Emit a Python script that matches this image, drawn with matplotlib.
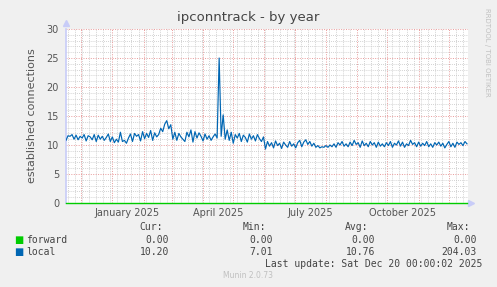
import numpy as np
import matplotlib
matplotlib.use('Agg')
import matplotlib.pyplot as plt
import matplotlib.dates as mdates
from matplotlib.transforms import blended_transform_factory

# daily averages, one value every 2 days from 2024-11-16
seg_nov_dec = [10.8, 11.6, 11.5, 11.8, 11.0, 11.7, 10.9, 11.5, 11.2, 11.8, 10.7, 11.6,
               11.4, 10.9, 11.8, 10.6, 11.7, 11.0, 11.5, 10.8, 11.3, 11.9, 10.6]
seg_jan_feb = [11.4, 10.4, 11.0, 10.5, 12.2, 10.6, 10.8, 10.3, 11.2, 11.9, 10.6, 12.0,
               11.5, 11.8, 10.7, 12.3, 11.1, 12.0, 11.3, 12.5, 10.8, 12.1, 11.4]
seg_feb_mar = [11.8, 12.9, 12.3, 13.6, 14.2, 12.8, 13.5, 11.0, 12.2, 10.8, 12.0, 11.4]
seg_mar_apr = [11.0, 10.6, 12.2, 11.4, 12.6, 10.5, 12.3, 11.2, 12.1, 11.5, 10.7, 11.9,
               11.0, 11.6, 10.8, 11.4, 11.9, 11.2]
seg_apr_may = [25.0, 11.5, 15.2, 11.0, 12.6, 10.8, 12.2, 10.3, 11.8, 11.2, 12.0, 10.6,
               11.7, 11.3, 10.5, 11.9, 11.0, 11.6, 10.7, 11.8, 11.1, 10.6, 11.4]
seg_jun_dec = [9.3, 10.6, 9.8, 10.4, 9.5, 10.7, 9.9, 10.3, 9.4, 10.5,
               10.0, 9.6, 10.6, 9.8, 10.2, 9.5, 10.4, 10.8, 9.7, 10.5,
               10.9, 10.1, 10.6, 9.8, 10.3, 9.6, 9.9, 9.5, 9.7, 9.6,
               9.9, 9.6, 10.0, 9.7, 10.2, 9.6, 10.4, 10.0, 10.6, 9.8,
               10.2, 9.7, 10.5, 9.9, 10.8, 10.1, 10.4, 9.6, 10.7, 9.9,
               10.3, 9.7, 10.6, 10.0, 10.4, 9.6, 10.5, 9.8, 10.2, 9.7,
               10.4, 9.9, 10.6, 9.6, 10.3, 10.0, 10.7, 9.8, 10.5, 9.6,
               10.2, 9.9, 10.8, 10.1, 10.4, 9.7, 10.5, 9.8, 10.3, 9.9,
               10.6, 9.7, 10.2, 9.6, 10.4, 10.0, 10.5, 9.8, 10.3, 9.5,
               10.1, 10.6, 9.7, 10.3, 9.6, 10.5, 10.1, 10.4, 9.9, 10.6, 10.2]

local = seg_nov_dec + seg_jan_feb + seg_feb_mar + seg_mar_apr + seg_apr_may + seg_jun_dec
forward = [0.0] * len(local)
dates = np.datetime64('2024-11-16') + np.arange(len(local)) * np.timedelta64(2, 'D')

series_names = ['forward', 'local']
series_colors = ['#00cc00', '#0066b3']
cur_vals = ['0.00', '10.20']
min_vals = ['0.00', '7.01']
avg_vals = ['0.00', '10.76']
max_vals = ['0.00', '204.03']

month_labels = ['January 2025', 'April 2025', 'July 2025', 'October 2025']
month_label_dates = ['2025-01-16', '2025-04-16', '2025-07-16', '2025-10-16']

W, H = 497, 287
fig = plt.figure(figsize=(W / 100, H / 100), dpi=100, facecolor='#f0f0f0')
ax = fig.add_axes([66 / W, 1 - 203 / H, 402 / W, 174 / H])
ax.set_facecolor('white')

x0 = np.datetime64('2024-11-16')
x1 = np.datetime64('2025-12-20')
ax.set_xlim(x0, x1)
ax.set_ylim(0, 30)

ax.xaxis.set_major_locator(mdates.MonthLocator())
ax.xaxis.set_minor_locator(mdates.WeekdayLocator(byweekday=mdates.MO))
ax.set_yticks(np.arange(0, 31, 5))
ax.set_yticks(np.arange(0, 31, 1), minor=True)
ax.grid(which='minor', color='#c4c4c4', linestyle=(0, (1, 1.5)), linewidth=0.6)
ax.grid(which='major', color='#e89a9a', linestyle=(0, (1, 1.5)), linewidth=0.7)
ax.set_axisbelow(True)
ax.tick_params(axis='x', which='both', length=0, labelbottom=False)
ax.tick_params(axis='y', which='both', length=0, labelsize=7, labelcolor='#555555', pad=5)

for s in ['top', 'right', 'bottom']:
    ax.spines[s].set_visible(False)
ax.spines['left'].set_color('#c8ccf8')
ax.spines['left'].set_linewidth(1.2)

ax.plot(dates, forward, color=series_colors[0], linewidth=1, clip_on=False, zorder=3)
ax.plot(dates, local, color=series_colors[1], linewidth=0.85, zorder=4)

# axis arrows
ax.plot([0], [1.035], marker='^', color='#c8ccf8', markersize=4, transform=ax.transAxes, clip_on=False)
ax.plot([1.008], [0], marker='>', color='#c8ccf8', markersize=4, transform=ax.transAxes, clip_on=False)

tr = blended_transform_factory(ax.transData, ax.transAxes)
for lab, d in zip(month_labels, month_label_dates):
    ax.text(np.datetime64(d), -0.055, lab, transform=tr, ha='center', va='center',
            fontsize=7, color='#555555')

ax.set_ylabel('established connections', fontsize=8, color='#555555', labelpad=7)

fig.text(248 / W, 1 - 18 / H, 'ipconntrack - by year', ha='center', va='center',
         fontsize=9.5, color='#444444')
fig.text(487 / W, 1 - 52 / H, 'RRDTOOL / TOBI OETIKER', rotation=270, ha='center',
         va='center', fontsize=5, color='#c0c0c0')

mono = dict(family='DejaVu Sans Mono', fontsize=7, color='#444444')
yh = 1 - 227 / H
for txt, xr in zip(['Cur:', 'Min:', 'Avg:', 'Max:'], [163, 266, 368, 470]):
    fig.text(xr / W, yh, txt, ha='right', va='center', **mono)
for i, name in enumerate(series_names):
    yy = 1 - (240 + 12 * i) / H
    fig.text(14 / W, yy, '\u25a0', ha='left', va='center', fontsize=7, color=series_colors[i])
    fig.text(26 / W, yy, name, ha='left', va='center', **mono)
    for v, xr in zip([cur_vals[i], min_vals[i], avg_vals[i], max_vals[i]], [169, 273, 375, 477]):
        fig.text(xr / W, yy, v, ha='right', va='center', **mono)
fig.text(482 / W, 1 - 264 / H, 'Last update: Sat Dec 20 00:00:02 2025', ha='right',
         va='center', **mono)
fig.text(248 / W, 1 - 276 / H, 'Munin 2.0.73', ha='center', va='center',
         fontsize=5.5, color='#c0c0c0')

fig.savefig('out.png', dpi=100, facecolor=fig.get_facecolor())
